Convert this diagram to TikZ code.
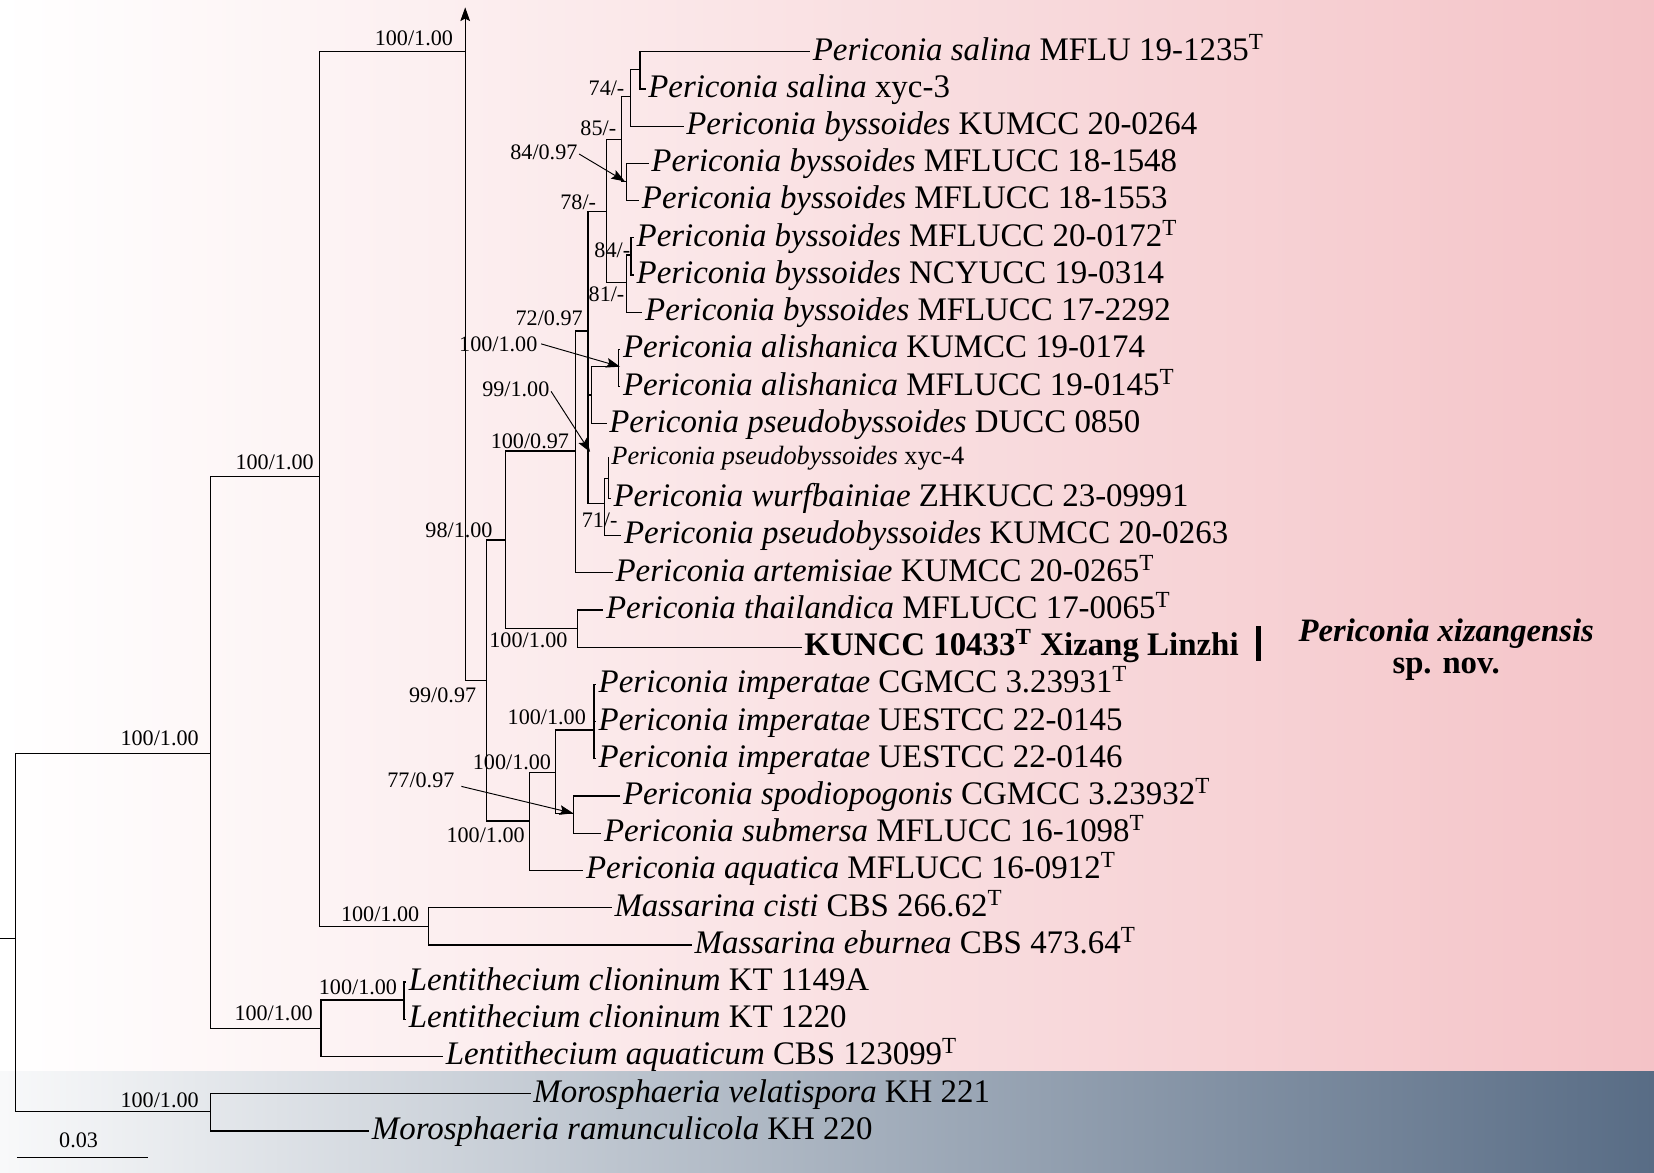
\documentclass[tikz,border=0pt]{standalone}
\usepackage{fontspec}
\setmainfont{Liberation Serif}
\usetikzlibrary{arrows.meta}
\definecolor{pinkR}{RGB}{244,195,199}
\definecolor{slateR}{RGB}{88,108,133}
\begin{document}
\begin{tikzpicture}[x=0.5pt,y=-0.5pt,line width=0.6pt,
  tx/.style={anchor=base west,inner xsep=1pt,inner ysep=0pt,yshift=-4pt,font=\fontsize{15.6}{18}\selectfont},
  txs/.style={anchor=base west,inner xsep=1pt,inner ysep=0pt,yshift=-3.3pt,font=\fontsize{12.5}{14}\selectfont},
  bs/.style={anchor=east,inner sep=0pt,font=\fontsize{10.5}{12}\selectfont},
  ann/.style={-{Stealth[length=6.5pt,width=4.6pt,inset=1.2pt]},line width=0.45pt}]
\useasboundingbox (0,0) rectangle (1568,1112);
\shade[left color=white,right color=pinkR] (0,0) rectangle (1568,1016);
\shade[left color=white!96!slateR,right color=slateR] (0,1016) rectangle (1568,1112);

% internal nodes
\coordinate (R0) at (0,890);
\coordinate (R) at (14.5,890);
\coordinate (N200) at (199.5,714);
\coordinate (Mo) at (199.5,1054);
\coordinate (N303) at (303,452);
\coordinate (Le) at (304.3,975);
\coordinate (Pe) at (441,49);
\coordinate (PeTop) at (441,7);
\coordinate (Ma) at (406,878);
\coordinate (Lc) at (383,948);
\coordinate (N461) at (461,645);
\coordinate (N479) at (479.4,512);
\coordinate (N502) at (501.8,778.4);
\coordinate (N546) at (545.8,427.6);
\coordinate (N548) at (547.7,595.7);
\coordinate (A) at (557.5,313.8);
\coordinate (B) at (575.2,200.7);
\coordinate (D) at (561,374.5);
\coordinate (E) at (573,477.2);
\coordinate (F) at (576.7,453.5);
\coordinate (Al) at (586.2,347.6);
\coordinate (G) at (589.4,132.1);
\coordinate (H) at (594.1,268);
\coordinate (J) at (597.9,91.7);
\coordinate (K) at (594.1,172.2);
\coordinate (S) at (606.8,65.7);
\coordinate (I) at (598.2,241.8);
\coordinate (N527) at (526.8,732.2);
\coordinate (Im) at (563.1,692);
\coordinate (SS) at (543.5,771);

% leaf branch ends
\coordinate (e1) at (768,49);
\coordinate (e2) at (612,84.3);
\coordinate (e3) at (648,119.6);
\coordinate (e4) at (615,154.8);
\coordinate (e5) at (606,190.1);
\coordinate (e6) at (601,225.4);
\coordinate (e7) at (601,260.7);
\coordinate (e8) at (609,296);
\coordinate (e9) at (588,331.2);
\coordinate (e10) at (588,366.5);
\coordinate (e11) at (575,401.8);
\coordinate (e12) at (577,434);
\coordinate (e13) at (579,472.4);
\coordinate (e14) at (589,507.6);
\coordinate (e15) at (581,542.9);
\coordinate (e16) at (572,578.2);
\coordinate (e17) at (760,613.5);
\coordinate (e18) at (565,648.8);
\coordinate (e19) at (565,684.1);
\coordinate (e20) at (565,719.4);
\coordinate (e21) at (588,754.6);
\coordinate (e22) at (570,789.9);
\coordinate (e23) at (553,825.2);
\coordinate (e24) at (580,860.5);
\coordinate (e25) at (656,895.8);
\coordinate (e26) at (385,931);
\coordinate (e27) at (385,966.3);
\coordinate (e28) at (420,1001.6);
\coordinate (e29) at (503,1036.9);
\coordinate (e30) at (350,1072.1);

% leaves
\node[tx] (L1) at (e1) {\textit{Periconia salina} MFLU 19-1235\textsuperscript{T}};
\node[tx] (L2) at (e2) {\textit{Periconia salina} xyc-3};
\node[tx] (L3) at (e3) {\textit{Periconia byssoides} KUMCC 20-0264};
\node[tx] (L4) at (e4) {\textit{Periconia byssoides} MFLUCC 18-1548};
\node[tx] (L5) at (e5) {\textit{Periconia byssoides} MFLUCC 18-1553};
\node[tx] (L6) at (e6) {\textit{Periconia byssoides} MFLUCC 20-0172\textsuperscript{T}};
\node[tx] (L7) at (e7) {\textit{Periconia byssoides} NCYUCC 19-0314};
\node[tx] (L8) at (e8) {\textit{Periconia byssoides} MFLUCC 17-2292};
\node[tx] (L9) at (e9) {\textit{Periconia alishanica} KUMCC 19-0174};
\node[tx] (L10) at (e10) {\textit{Periconia alishanica} MFLUCC 19-0145\textsuperscript{T}};
\node[tx] (L11) at (e11) {\textit{Periconia pseudobyssoides} DUCC 0850};
\node[txs] (L12) at (e12) {\textit{Periconia pseudobyssoides} xyc-4};
\node[tx] (L13) at (e13) {\textit{Periconia wurfbainiae} ZHKUCC 23-09991};
\node[tx] (L14) at (e14) {\textit{Periconia pseudobyssoides} KUMCC 20-0263};
\node[tx] (L15) at (e15) {\textit{Periconia artemisiae} KUMCC 20-0265\textsuperscript{T}};
\node[tx] (L16) at (e16) {\textit{Periconia thailandica} MFLUCC 17-0065\textsuperscript{T}};
\node[tx] (L17) at (e17) {\textbf{KUNCC 10433\textsuperscript{T} Xizang Linzhi}};
\node[tx] (L18) at (e18) {\textit{Periconia imperatae} CGMCC 3.23931\textsuperscript{T}};
\node[tx] (L19) at (e19) {\textit{Periconia imperatae} UESTCC 22-0145};
\node[tx] (L20) at (e20) {\textit{Periconia imperatae} UESTCC 22-0146};
\node[tx] (L21) at (e21) {\textit{Periconia spodiopogonis} CGMCC 3.23932\textsuperscript{T}};
\node[tx] (L22) at (e22) {\textit{Periconia submersa} MFLUCC 16-1098\textsuperscript{T}};
\node[tx] (L23) at (e23) {\textit{Periconia aquatica} MFLUCC 16-0912\textsuperscript{T}};
\node[tx] (L24) at (e24) {\textit{Massarina cisti} CBS 266.62\textsuperscript{T}};
\node[tx] (L25) at (e25) {\textit{Massarina eburnea} CBS 473.64\textsuperscript{T}};
\node[tx] (L26) at (e26) {\textit{Lentithecium clioninum} KT 1149A};
\node[tx] (L27) at (e27) {\textit{Lentithecium clioninum} KT 1220};
\node[tx] (L28) at (e28) {\textit{Lentithecium aquaticum} CBS 123099\textsuperscript{T}};
\node[tx] (L29) at (e29) {\textit{Morosphaeria velatispora} KH 221};
\node[tx] (L30) at (e30) {\textit{Morosphaeria ramunculicola} KH 220};

% branches
\draw (R0) -- (R);
\draw (R) |- (N200);
\draw (R) |- (Mo);
\draw (Mo) |- (e29);
\draw (Mo) |- (e30);
\draw (N200) |- (N303);
\draw (N200) |- (Le);
\draw (Le) |- (Lc);
\draw (Le) |- (e28);
\draw (Lc) |- (e26);
\draw (Lc) |- (e27);
\draw (N303) |- (Pe);
\draw (N303) |- (Ma);
\draw (Ma) |- (e24);
\draw (Ma) |- (e25);
\draw[ann] (Pe) -- (PeTop);
\draw (Pe) |- (N461);
\draw (N461) |- (N479);
\draw (N461) |- (N502);
\draw (N502) |- (N527);
\draw (N502) |- (e23);
\draw (N527) |- (Im);
\draw (N527) |- (SS);
\draw (Im) |- (e18);
\draw (Im) |- (e19);
\draw (Im) |- (e20);
\draw (SS) |- (e21);
\draw (SS) |- (e22);
\draw (N479) |- (N546);
\draw (N479) |- (N548);
\draw (N548) |- (e16);
\draw (N548) |- (e17);
\draw (N546) |- (A);
\draw (N546) |- (e15);
\draw (A) |- (B);
\draw (A) |- (D);
\draw (A) |- (E);
\draw (D) |- (Al);
\draw (D) |- (e11);
\draw (Al) |- (e9);
\draw (Al) |- (e10);
\draw (E) |- (F);
\draw (E) |- (e14);
\draw (F) |- (e12);
\draw (F) |- (e13);
\draw (B) |- (G);
\draw (B) |- (H);
\draw (G) |- (J);
\draw (G) |- (K);
\draw (J) |- (S);
\draw (J) |- (e3);
\draw (S) |- (e1);
\draw (S) |- (e2);
\draw (K) |- (e4);
\draw (K) |- (e5);
\draw (H) |- (I);
\draw (H) |- (e8);
\draw (I) |- (e6);
\draw (I) |- (e7);

% support values
\node[bs] (s1) at (430,36) {100/1.00};
\node[bs] (s2) at (298,438) {100/1.00};
\node[bs] (s3) at (189,700) {100/1.00};
\node[bs] (s4) at (398,867) {100/1.00};
\node[bs] (s5) at (297,961) {100/1.00};
\node[bs] (s6) at (377,936) {100/1.00};
\node[bs] (s7) at (189,1043.5) {100/1.00};
\node[bs] (s8) at (452,659) {99/0.97};
\node[bs] (s9) at (467.5,503) {98/1.00};
\node[bs] (s10) at (540,418) {100/0.97};
\node[bs] (s11) at (553,302) {72/0.97};
\node[bs] (s12) at (565.7,192) {78/-};
\node[bs] (s13) at (584.7,122) {85/-};
\node[bs] (s14) at (592.5,84) {74/-};
\node[bs] (s15) at (548,144) {84/0.97};
\node[bs] (s16) at (598,237) {84/-};
\node[bs] (s17) at (592.5,279) {81/-};
\node[bs] (s18) at (510,326) {100/1.00};
\node[bs] (s19) at (521.4,369) {99/1.00};
\node[bs] (s20) at (586,493) {71/-};
\node[bs] (s21) at (538.6,607) {100/1.00};
\node[bs] (s22) at (556,680) {100/1.00};
\node[bs] (s23) at (523,723) {100/1.00};
\node[bs] (s24) at (431.4,739.5) {77/0.97};
\node[bs] (s25) at (498,792) {100/1.00};

% annotation arrows
\coordinate (t15) at (592.5,172);
\coordinate (t18) at (587.8,347.6);
\coordinate (t19) at (559.4,428.5);
\coordinate (t24) at (543.5,771);
\draw[ann] (s15.east) ++(1,2) -- (t15);
\draw[ann] (s18.east) ++(3,0) -- (t18);
\draw[ann] (s19.east) ++(1,2) -- (t19);
\draw[ann] (s24.east) ++(6,6) -- (t24);

% scale bar
\coordinate (sb1) at (16,1097);
\coordinate (sb2) at (140,1097);
\draw (sb1) -- (sb2);
\node[font=\fontsize{10.5}{12}\selectfont,inner sep=0pt] (sbl) at (74.5,1081) {0.03};

% new species
\node[fill=black,inner sep=0pt,minimum width=2.5pt,minimum height=17pt] (bar) at (1193,610) {};
\node[font=\fontsize{15.5}{15}\selectfont\bfseries,align=center,inner sep=0pt] (sp) at (1371,616) {\textit{Periconia xizangensis}\\sp. nov.};
\end{tikzpicture}
\end{document}
